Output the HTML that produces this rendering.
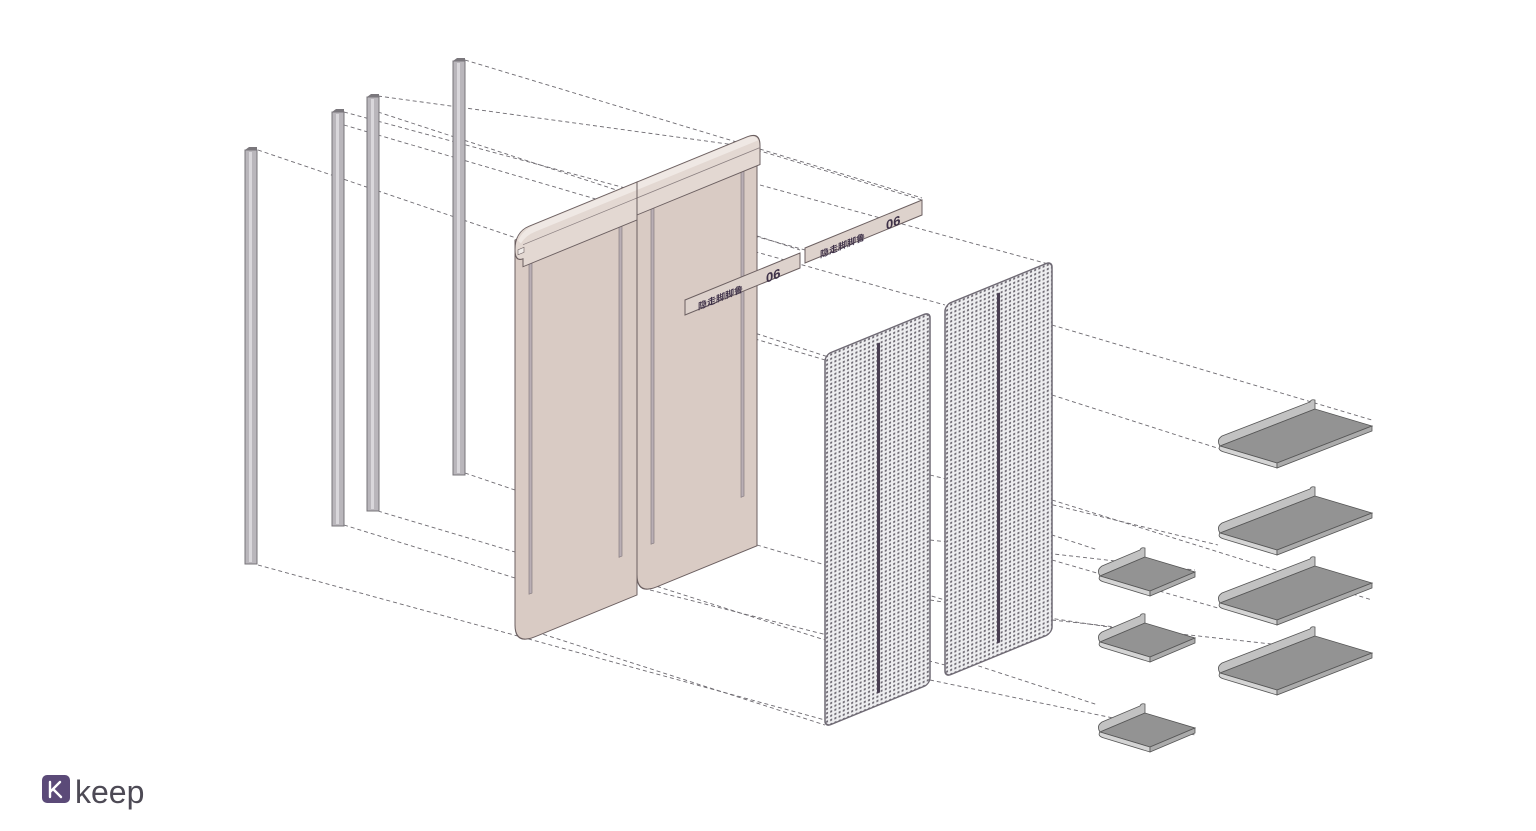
<!DOCTYPE html>
<html><head><meta charset="utf-8"><style>
html,body{margin:0;padding:0;background:#fff;width:1536px;height:831px;overflow:hidden}
svg{display:block}
</style></head><body>
<svg width="1536" height="831" viewBox="0 0 1536 831" xmlns="http://www.w3.org/2000/svg">
<defs>
<pattern id="dots" x="0" y="0" width="4.2" height="4.2" patternUnits="userSpaceOnUse">
<rect width="4.2" height="4.2" fill="#eeeef0"/>
<rect x="1" y="1" width="2" height="2" fill="#6e6a73"/>
</pattern>
<g id="post">
<rect x="0" y="2" width="12" height="414" fill="#b9b6bb" stroke="#77747a" stroke-width="1"/>
<rect x="4" y="4" width="3" height="410" fill="#d9d7db"/>
<polygon points="0,2 4,-1 12,-1 12,2" fill="#7a777c"/>
</g>
<g id="bigshelf">
<path d="M0,0 L95,-37 L95,-46 Q91,-47 90,-44 L2,-10 Q-4,-6 0,0 Z" fill="#c2c2c2" stroke="#555" stroke-width="0.8"/>
<polygon points="0,0 95,-37 152,-20 57,17" fill="#939393" stroke="#555" stroke-width="0.8"/>
<path d="M0,0 L57,17 L57,22 L4,6 Q-3,4 0,0 Z" fill="#d4d4d4" stroke="#555" stroke-width="0.8"/>
<polygon points="57,17 152,-20 152,-15 57,22" fill="#ababab" stroke="#555" stroke-width="0.8"/>
</g>
<g id="smallshelf">
<path d="M0,0 L45,-19 L45,-28 Q41,-29 40,-26 L2,-10 Q-4,-6 0,0 Z" fill="#c2c2c2" stroke="#555" stroke-width="0.8"/>
<polygon points="0,0 45,-19 95,-4 50,15" fill="#939393" stroke="#555" stroke-width="0.8"/>
<path d="M0,0 L50,15 L50,20 L4,6 Q-3,4 0,0 Z" fill="#d4d4d4" stroke="#555" stroke-width="0.8"/>
<polygon points="50,15 95,-4 95,1 50,20" fill="#ababab" stroke="#555" stroke-width="0.8"/>
</g>
</defs>

<g stroke="#6d6a70" stroke-width="0.9" stroke-dasharray="4,3" fill="none">
<line x1="258" y1="150" x2="522" y2="240"/>
<line x1="344" y1="112" x2="640" y2="192"/>
<line x1="378" y1="96" x2="735" y2="145"/>
<line x1="465" y1="60" x2="922" y2="198"/>
<line x1="344" y1="125" x2="650" y2="215"/>
<line x1="378" y1="112" x2="800" y2="250"/>
<line x1="258" y1="565" x2="825" y2="720"/>
<line x1="344" y1="525" x2="515" y2="578"/>
<line x1="378" y1="511" x2="515" y2="552"/>
<line x1="465" y1="473" x2="515" y2="490"/>
<line x1="530" y1="260" x2="930" y2="390"/>
<line x1="520" y1="268" x2="825" y2="360"/>
<line x1="760" y1="185" x2="1052" y2="265"/>
<line x1="660" y1="225" x2="945" y2="305"/>
<line x1="757" y1="150" x2="922" y2="200"/>
<line x1="660" y1="210" x2="805" y2="250"/>
<line x1="530" y1="630" x2="825" y2="725"/>
<line x1="637" y1="580" x2="825" y2="640"/>
<line x1="757" y1="545" x2="945" y2="600"/>
<line x1="650" y1="590" x2="945" y2="665"/>
<line x1="1052" y1="325" x2="1372" y2="420"/>
<line x1="1052" y1="395" x2="1270" y2="465"/>
<line x1="930" y1="475" x2="1218" y2="545"/>
<line x1="1052" y1="500" x2="1372" y2="600"/>
<line x1="930" y1="540" x2="1195" y2="570"/>
<line x1="945" y1="500" x2="1098" y2="550"/>
<line x1="1052" y1="560" x2="1218" y2="608"/>
<line x1="930" y1="600" x2="1195" y2="640"/>
<line x1="1052" y1="620" x2="1372" y2="655"/>
<line x1="945" y1="655" x2="1098" y2="705"/>
<line x1="930" y1="680" x2="1195" y2="735"/>
</g>

<use href="#post" x="245" y="148"/>
<use href="#post" x="332" y="110"/>
<use href="#post" x="367" y="95"/>
<use href="#post" x="453" y="59"/>

<g transform="matrix(1,-0.41,0,1,515,240)">
<path d="M0,0 H122 V405 H20 Q0,405 0,385 Z" fill="#d9cbc4" stroke="#6b5f60" stroke-width="1"/>
<rect x="14" y="30" width="3" height="330" fill="#b9aeb4" stroke="#7a7075" stroke-width="0.6"/>
<rect x="104" y="5" width="3" height="355" fill="#b9aeb4" stroke="#7a7075" stroke-width="0.6"/>
</g>
<g transform="matrix(1,-0.41,0,1,637,190)">
<path d="M0,0 H120 V405 H20 Q0,405 0,385 Z" fill="#d9cbc4" stroke="#6b5f60" stroke-width="1"/>
<rect x="14" y="20" width="3" height="340" fill="#b9aeb4" stroke="#7a7075" stroke-width="0.6"/>
<rect x="104" y="20" width="3" height="330" fill="#b9aeb4" stroke="#7a7075" stroke-width="0.6"/>
</g>
<!-- header roll -->
<g transform="matrix(1,-0.41,0,1,515,240)">
<path d="M0,10 Q0,-8 14,-8 H122 V30 H8 V22 Q0,22 0,10 Z" fill="#e3d8d2" stroke="#6b5f60" stroke-width="1"/>
<path d="M122,-8 H232 Q245,-8 245,6 V25 H122 Z" fill="#e3d8d2" stroke="#6b5f60" stroke-width="1"/>
<path d="M3,2 Q8,-7 20,-7 H232 Q241,-7 243,0 H20 Q10,0 6,6 Z" fill="#efe8e4"/>
<line x1="8" y1="8" x2="245" y2="8" stroke="#8a7f80" stroke-width="0.8"/>
<line x1="122" y1="-8" x2="122" y2="30" stroke="#6b5f60"/>
<rect x="3" y="11" width="6" height="5" fill="#f0ebe8" stroke="#6b5f60" stroke-width="0.6"/>
</g>
<g font-family="Liberation Sans, Noto Sans CJK SC, sans-serif" font-weight="bold" fill="#3e3148">
<polygon points="685,300 800,253 800,268 685,315" fill="#ddd2cc" stroke="#6b5f60"/>
<text x="0" y="0" font-size="9" transform="matrix(1,-0.41,0,1,698,310)">隐走脚脚鲁</text>
<text x="0" y="0" font-size="13" transform="matrix(1,-0.41,0,1,766,283)">06</text>
<polygon points="805,248 922,200 922,215 805,263" fill="#ddd2cc" stroke="#6b5f60"/>
<text x="0" y="0" font-size="9" transform="matrix(1,-0.41,0,1,820,258)">隐走脚脚鲁</text>
<text x="0" y="0" font-size="13" transform="matrix(1,-0.41,0,1,886,230)">06</text>
</g>

<g transform="matrix(1,-0.41,0,1,825,355)">
<rect x="0" y="0" width="105" height="372" rx="6" fill="url(#dots)" stroke="#6f6a74" stroke-width="1.5"/>
<rect x="52" y="10" width="3" height="350" fill="#4a3f52"/>
</g>
<g transform="matrix(1,-0.41,0,1,945,305)">
<rect x="0" y="0" width="107" height="372" rx="6" fill="url(#dots)" stroke="#6f6a74" stroke-width="1.5"/>
<rect x="52" y="10" width="3" height="350" fill="#4a3f52"/>
</g>

<use href="#bigshelf" x="1220" y="446"/>
<use href="#bigshelf" x="1220" y="533"/>
<use href="#bigshelf" x="1220" y="603"/>
<use href="#bigshelf" x="1220" y="673"/>
<use href="#smallshelf" x="1100" y="576"/>
<use href="#smallshelf" x="1100" y="642"/>
<use href="#smallshelf" x="1100" y="732"/>

<rect x="42" y="775" width="28" height="28" rx="5" fill="#5b4a78"/>
<path d="M50,782 V797 M50,792 L60,782 M53,789 L61,797" stroke="#fff" stroke-width="2.4" fill="none" stroke-linecap="round"/>
<text x="75" y="803" font-family="Liberation Sans, sans-serif" font-size="32" fill="#4d4a55">keep</text>
</svg>
</body></html>
